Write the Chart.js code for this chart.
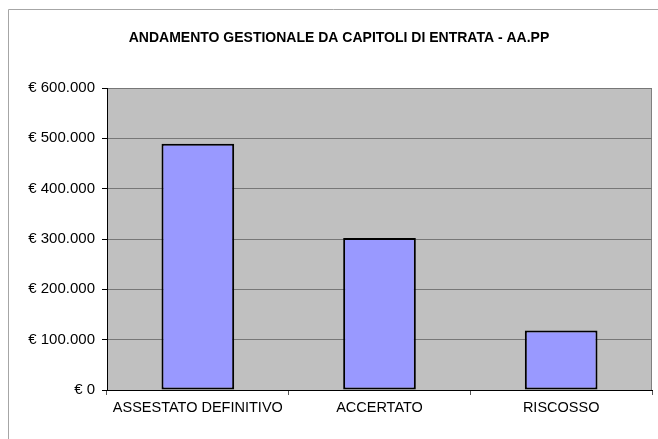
<!DOCTYPE html>
<html>
<head>
<meta charset="utf-8">
<script src="https://cdn.jsdelivr.net/npm/chart.js@4"></script>
<style>
  html, body { margin: 0; padding: 0; background: #fff; }
  #wrap { width: 658px; height: 439px; }
</style>
</head>
<body>
<div id="wrap"><canvas id="myChart" width="658" height="439"></canvas></div>
<script>
const titleText = 'ANDAMENTO GESTIONALE DA CAPITOLI DI ENTRATA - AA.PP';
const categories = ['ASSESTATO DEFINITIVO', 'ACCERTATO', 'RISCOSSO'];
const values = [489000, 302000, 118000];
const yMin = 0;
const yMax = 600000;
const yStep = 100000;

function euro(v) {
    return '€ ' + String(v).replace(/\B(?=(\d{3})+(?!\d))/g, '.');
}

// grey plot area, frame and outer chart border
const excelLook = {
    id: 'excelLook',
    beforeDraw(chart) {
        const c = chart.ctx;
        const a = chart.chartArea;
        c.save();
        c.strokeStyle = '#a6a6a6';
        c.lineWidth = 1;
        c.beginPath();
        c.moveTo(8.5, 439);
        c.lineTo(8.5, 9.5);
        c.lineTo(658, 9.5);
        c.stroke();
        c.fillStyle = '#c0c0c0';
        c.fillRect(a.left, a.top, a.right - a.left, a.bottom - a.top);
        c.strokeStyle = '#808080';
        c.beginPath();
        c.moveTo(a.right - 0.5, a.top);
        c.lineTo(a.right - 0.5, a.bottom);
        c.stroke();
        c.restore();
    }
};

Chart.defaults.font.family = '"Liberation Sans", Arial, sans-serif';
Chart.defaults.color = '#000';

const ctx = document.getElementById('myChart').getContext('2d');
const myChart = new Chart(ctx, {
    type: 'bar',
    data: {
        labels: categories,
        datasets: [{
            data: values,
            backgroundColor: '#9999ff',
            borderColor: '#000',
            borderWidth: 2,
            borderSkipped: false,
            barPercentage: 0.4,
            categoryPercentage: 1
        }]
    },
    options: {
        responsive: false,
        animation: false,
        layout: {
            padding: { left: 26, right: 6, top: 0, bottom: 0 }
        },
        scales: {
            x: {
                grid: {
                    offset: true,
                    drawOnChartArea: false,
                    tickLength: 5,
                    tickColor: '#555'
                },
                border: { color: '#000', width: 1 },
                ticks: { font: { size: 14.5 }, padding: 4, maxRotation: 0 },
                afterFit(scale) { scale.height = 49; }
            },
            y: {
                min: yMin,
                max: yMax,
                grid: {
                    color: '#777',
                    tickColor: '#000',
                    tickLength: 5
                },
                border: { color: '#000', width: 1 },
                ticks: {
                    stepSize: yStep,
                    font: { size: 15 },
                    padding: 7,
                    callback: v => euro(v)
                },
                afterFit(scale) { scale.width = 81; }
            }
        },
        plugins: {
            legend: false,
            tooltip: { enabled: false },
            title: {
                display: true,
                text: titleText,
                font: { size: 14, weight: 'bold' },
                color: '#000',
                padding: { top: 29.6, bottom: 41.6 }
            }
        }
    },
    plugins: [excelLook]
});
</script>
</body>
</html>
